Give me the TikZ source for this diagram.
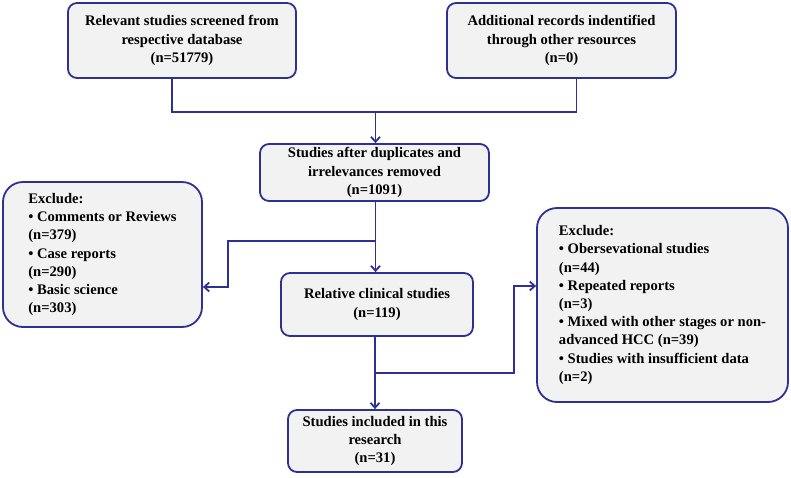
\documentclass[tikz,border=0pt]{standalone}
\usepackage{fontspec}
\setmainfont{Liberation Serif}
\usepackage{xcolor}
\usetikzlibrary{arrows.meta}

\definecolor{flowblue}{RGB}{46,49,146}
\definecolor{flowgray}{RGB}{242,242,242}

\begin{document}
\begin{tikzpicture}[
    x=1pt, y=-1pt,
    flowbox/.style={
      draw=flowblue,
      fill=flowgray,
      line width=1.8pt,
      rounded corners=9pt,
      align=center,
      inner sep=0pt,
      font=\bfseries\fontsize{14.6}{18.2}\selectfont,
    },
    excludebox/.style={flowbox, rounded corners=20pt, align=left},
    flowline/.style={draw=flowblue, line width=1.8pt},
    flowarrow/.style={flowline, -{Straight Barb[length=5pt, width=9pt]}},
  ]
  \useasboundingbox (0, 0) rectangle (791, 477);

  % boxes
  \node[flowbox, minimum width=228pt, minimum height=75pt] (screened) at (182, 40.5)
    {Relevant studies screened from\\respective database\\(n=51779)};
  \node[flowbox, minimum width=229pt, minimum height=75pt] (additional) at (561.5, 40.5)
    {Additional records indentified\\through other resources\\(n=0)};
  \node[flowbox, minimum width=229pt, minimum height=57pt] (deduped) at (374.5, 172.5)
    {Studies after duplicates and\\irrelevances removed\\(n=1091)};
  \node[flowbox, minimum width=192pt, minimum height=63pt] (clinical) at (377, 304.5)
    {Relative clinical studies\\(n=119)};
  \node[flowbox, minimum width=174pt, minimum height=62pt] (included) at (375, 441)
    {Studies included in this\\research\\(n=31)};
  \node[excludebox, minimum width=199pt, minimum height=145pt] (exclA) at (102.5, 254.5)
    {Exclude:\\\textbullet\ Comments or Reviews\\(n=379)\\\textbullet\ Case reports\\(n=290)\\\textbullet\ Basic science\\(n=303)};
  \node[excludebox, minimum width=251pt, minimum height=194pt] (exclB) at (662.5, 305)
    {Exclude:\\\textbullet\ Obersevational studies\\(n=44)\\\textbullet\ Repeated reports\\(n=3)\\\textbullet\ Mixed with other stages or non-\\advanced HCC (n=39)\\\textbullet\ Studies with insufficient data\\(n=2)};

  % joints of the connectors
  \coordinate (merge) at (375.5, 112);
  \coordinate (splitA) at (375.5, 241);
  \coordinate (bendA) at (228, 287);
  \coordinate (splitB) at (375, 373);
  \coordinate (bendB) at (514, 286);

  % connectors
  \draw[flowline] ([xshift=-10pt]screened.south) |- (merge) -| ([xshift=15pt]additional.south);
  \draw[flowarrow] (merge) -- (merge |- deduped.north);
  \draw[flowarrow] (deduped.south -| splitA) -- (splitA |- clinical.north);
  \draw[flowarrow] (splitA) -| (bendA) -- (bendA -| exclA.east);
  \draw[flowarrow] (clinical.south -| splitB) -- (splitB |- included.north);
  \draw[flowarrow] (splitB) -| (bendB) -- (bendB -| exclB.west);
\end{tikzpicture}
\end{document}
